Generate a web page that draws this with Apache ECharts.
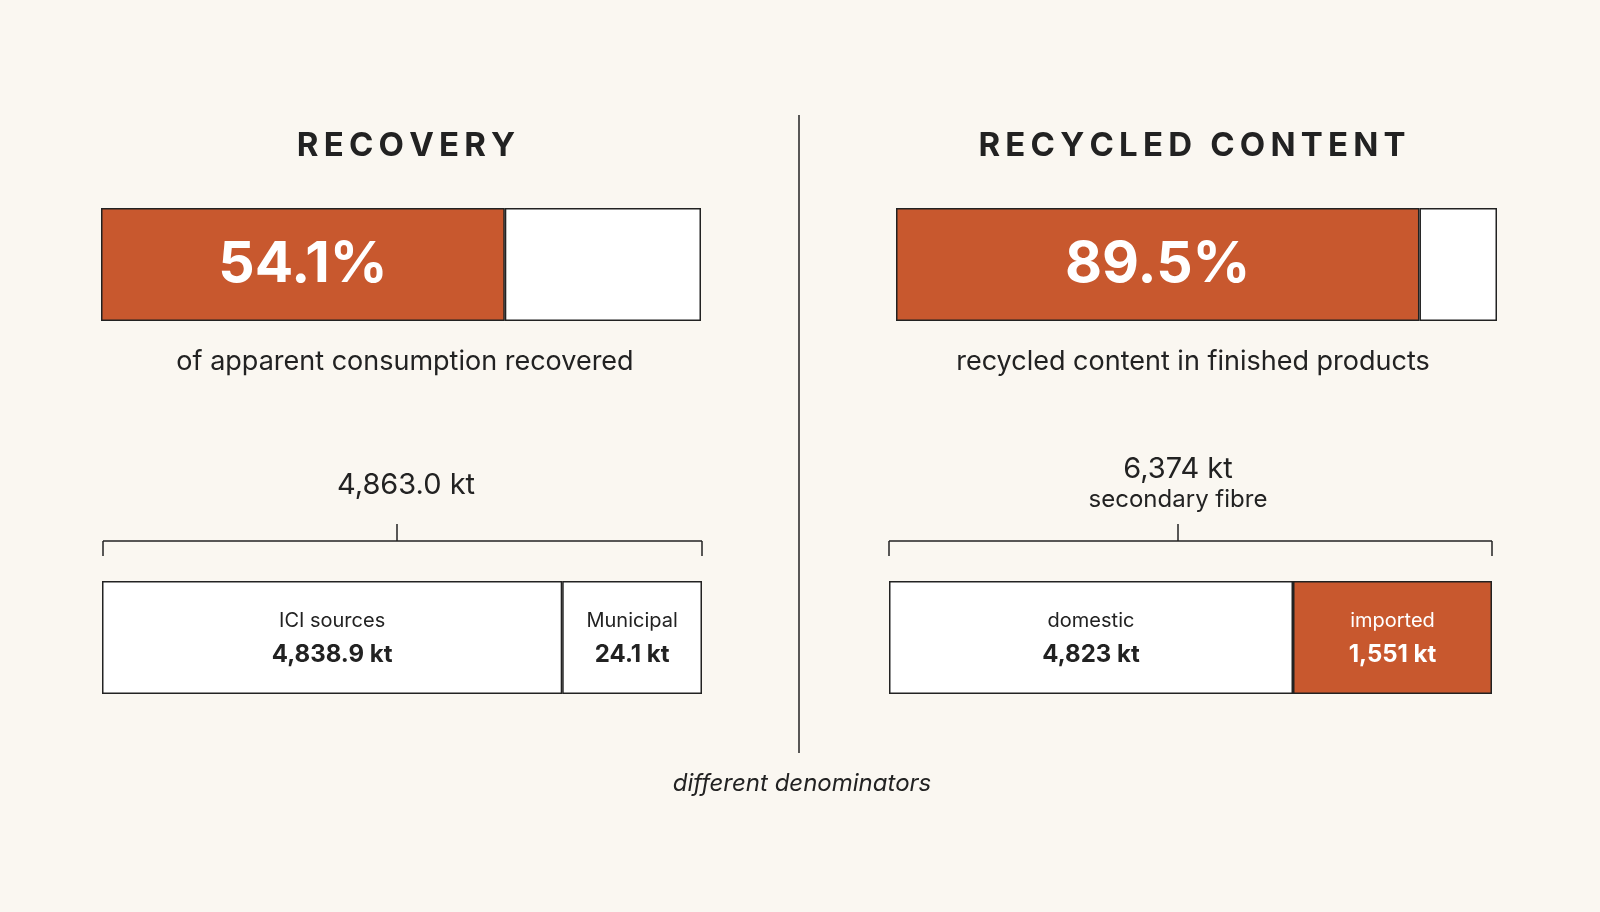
<!DOCTYPE html>
<html><head><meta charset="utf-8">
<script src="https://cdn.jsdelivr.net/npm/echarts@6/dist/echarts.min.js"></script>
<style>html,body{margin:0;background:#faf7f1}#c{width:1600px;height:912px}</style></head>
<body><div id="c"></div>
<script>
const panelTitles = ['RECOVERY', 'RECYCLED CONTENT'];
const rates = [54.1, 89.5];
const rateShares = [67.3, 87.1];   // fill widths as drawn in picture (%)
const rateCaptions = ['of apparent consumption recovered', 'recycled content in finished products'];
const totals = ['4,863.0 kt', '6,374 kt'];
const totalSub = ['', 'secondary fibre'];
const leftParts = ['ICI sources', 'Municipal'];
const leftValues = ['4,838.9 kt', '24.1 kt'];
const leftShares = [76.7, 23.3];   // box widths as drawn in picture (%)
const rightParts = ['domestic', 'imported'];
const rightValues = ['4,823 kt', '1,551 kt'];
const rightShares = [67.0, 33.0];
const footnote = 'different denominators';

const OR = '#c8582e', BG = '#faf7f1', INK = '#222', F = 'Inter, "Noto Sans", sans-serif';
const sx = 1600 / 1568, sy = 912 / 895;
const X = v => Math.round(v * sx), Y = v => Math.round(v * sy);
const grids = [
  {left: X(99), top: Y(204), width: X(588), height: Y(111)},
  {left: X(878), top: Y(204), width: X(589), height: Y(111)},
  {left: X(100), top: Y(570), width: X(588), height: Y(111)},
  {left: X(871), top: Y(570), width: X(591), height: Y(111)}
];
const BW = Y(111);
const xAxis = grids.map((g, i) => ({gridIndex: i, type: 'value', min: 0, max: 100, show: false}));
const yAxis = grids.map((g, i) => ({gridIndex: i, type: 'category', data: ['a'], show: false}));
const border = {borderColor: INK, borderWidth: 1.5};
const series = [];
function seg(gi, val, color, label) {
  series.push({type: 'bar', stack: 's' + gi, xAxisIndex: gi, yAxisIndex: gi, barWidth: BW,
    data: [val], itemStyle: Object.assign({color}, border), label: label || {show: false}, silent: true});
}
rates.forEach((r, i) => {
  seg(i, rateShares[i], OR, {show: true, position: 'inside', formatter: r.toFixed(1) + '%', color: '#fff',
    fontSize: 57, fontWeight: 'bold', fontFamily: F});
  seg(i, +(100 - rateShares[i]).toFixed(1), '#fff');
});
function partLabel(name, val, col) {
  return {show: true, position: 'inside', formatter: '{n|' + name + '}\n{v|' + val + '}',
    rich: {n: {fontSize: 20, color: col, fontFamily: F, lineHeight: 34},
           v: {fontSize: 24, fontWeight: 'bold', color: col, fontFamily: F, lineHeight: 34}}};
}
seg(2, leftShares[0], '#fff', partLabel(leftParts[0], leftValues[0], INK));
seg(2, leftShares[1], '#fff', partLabel(leftParts[1], leftValues[1], INK));
seg(3, rightShares[0], '#fff', partLabel(rightParts[0], rightValues[0], INK));
seg(3, rightShares[1], OR, partLabel(rightParts[1], rightValues[1], '#fff'));

const spaced = s => s.split('').join('\u2009');
const T = (x, y, text, font) => ({type: 'text', x: X(x), y: Y(y), style: {text, fill: INK,
  font, textAlign: 'center', textVerticalAlign: 'middle'}});
const L = (x1, y1, x2, y2) => ({type: 'line', shape: {x1: X(x1), y1: Y(y1), x2: X(x2), y2: Y(y2)}, style: {stroke: INK, lineWidth: 1.5}});
const graphic = [
  L(783, 113, 783, 739),
  T(398, 143, spaced(panelTitles[0]), 'bold 33px ' + F),
  T(1168, 143, spaced(panelTitles[1]), 'bold 33px ' + F),
  T(397, 355, rateCaptions[0], '27px ' + F), T(1169, 355, rateCaptions[1], '27px ' + F),
  T(398, 476, totals[0], '29px ' + F), T(1154, 460, totals[1], '29px ' + F), T(1154, 491, totalSub[1], '24px ' + F),
  L(101, 531, 688, 531), L(101, 531, 101, 546), L(688, 531, 688, 546), L(389, 514, 389, 531),
  L(871, 531, 1462, 531), L(871, 531, 871, 546), L(1462, 531, 1462, 546), L(1154, 514, 1154, 531),
  T(786, 769, footnote, 'italic 24px ' + F)
];
const chart = echarts.init(document.getElementById('c'));
chart.setOption({backgroundColor: BG, animation: false, grid: grids, xAxis, yAxis, series, graphic});
</script></body></html>
